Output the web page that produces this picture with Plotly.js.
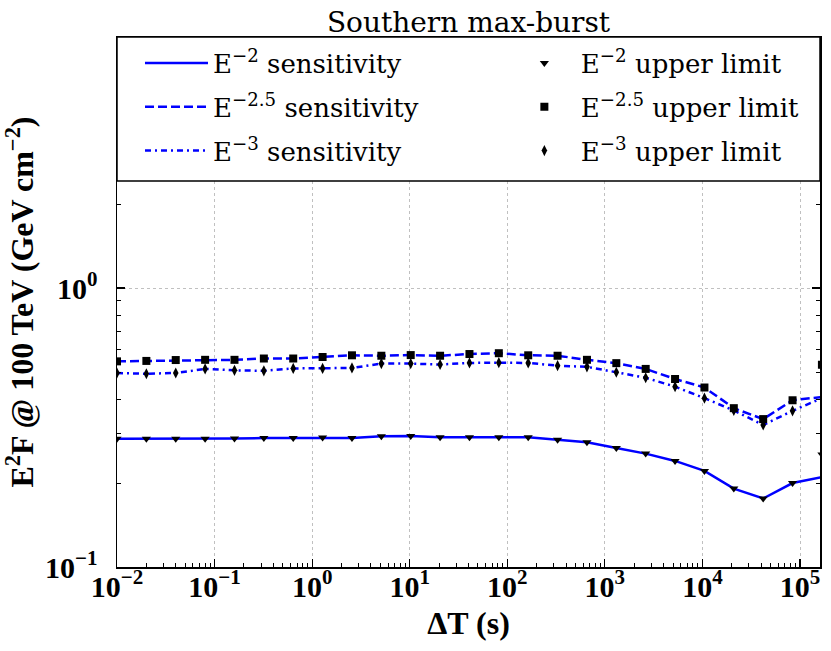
<!DOCTYPE html>
<html><head><meta charset="utf-8">
<script src="https://cdn.plot.ly/plotly-3.0.1.min.js"></script>
<style>html,body{margin:0;padding:0;background:#fff}</style>
</head><body><div id="chart" style="width:831px;height:651px"></div>
<script>
// Time windows ΔT (s)
const deltaT = [0.01, 0.02, 0.04, 0.08, 0.16, 0.32, 0.64, 1.28, 2.56, 5.12, 10.24, 20.48, 40.96,
  81.92, 163.84, 327.68, 655.36, 1310.72, 2621.44, 5242.88, 10485.76, 20971.52, 41943.04, 83886.08, 167772.16];

// Sensitivities (lines)
const sensE2  = [0.288,0.288,0.288,0.288,0.289,0.290,0.290,0.291,0.290,0.294,0.295,0.292,0.292,0.292,0.292,0.286,0.280,0.267,0.255,0.240,0.221,0.191,0.176,0.200,0.210];
const sensE25 = [0.546,0.548,0.552,0.553,0.553,0.559,0.559,0.566,0.574,0.572,0.575,0.572,0.580,0.584,0.574,0.572,0.553,0.538,0.513,0.472,0.440,0.371,0.339,0.396,0.407];
const sensE3  = [0.496,0.493,0.496,0.513,0.507,0.505,0.515,0.515,0.517,0.536,0.536,0.532,0.539,0.540,0.539,0.527,0.522,0.499,0.477,0.443,0.403,0.364,0.323,0.363,0.403];

// Upper limits (markers)
const ulE2  = [0.288,0.288,0.288,0.288,0.289,0.290,0.290,0.291,0.290,0.294,0.295,0.292,0.292,0.292,0.292,0.286,0.280,0.267,0.255,0.240,0.221,0.191,0.176,0.200,0.253];
const ulE25 = [0.546,0.548,0.552,0.553,0.553,0.559,0.559,0.566,0.574,0.572,0.575,0.572,0.580,0.584,0.574,0.572,0.553,0.538,0.513,0.472,0.440,0.371,0.339,0.396,0.531];
const ulE3  = [0.496,0.493,0.496,0.513,0.507,0.505,0.515,0.515,0.517,0.536,0.536,0.532,0.539,0.540,0.539,0.527,0.522,0.499,0.477,0.443,0.403,0.364,0.323,0.363,0.521];

// Labels
const seriesNames = ['E<sup>−2</sup> sensitivity','E<sup>−2.5</sup> sensitivity','E<sup>−3</sup> sensitivity'];
const ulNames = ['E<sup>−2</sup> upper limit','E<sup>−2.5</sup> upper limit','E<sup>−3</sup> upper limit'];
const xTickVals = [0.01, 0.1, 1, 10, 100, 1000, 10000, 100000];
const xTickText = ['10<sup>−2</sup>','10<sup>−1</sup>','10<sup>0</sup>','10<sup>1</sup>','10<sup>2</sup>','10<sup>3</sup>','10<sup>4</sup>','10<sup>5</sup>'];
const yTickVals = [0.1, 1];
const yTickText = ['10<sup>−1</sup>','10<sup>0</sup>'];
const titleText = 'Southern max-burst';
const xTitle = '<b>ΔT (s)</b>';
const yTitle = '<b>E<sup>2</sup>F @ 100 TeV (GeV cm<sup>−2</sup>)</b>';

const FONT = '"Liberation Serif", "Times New Roman", Times, serif';
const FONT_REG = '"DejaVu Serif", "Liberation Serif", serif';
const BLUE = '#0000ff';

const lineStyles = ['solid', '9px,4px', '6px,4px,2px,4px'];
const sensData = [sensE2, sensE25, sensE3];
const ulData = [ulE2, ulE25, ulE3];
const symbols = ['triangle-down', 'square', 'diamond-tall'];
const sizes = [8, 8, 8];

const traces = [];
sensData.forEach((ys, i) => {
  traces.push({
    x: deltaT, y: ys, type: 'scatter', mode: 'lines', name: seriesNames[i],
    line: {color: BLUE, width: 2.5, dash: lineStyles[i]},
    legend: 'legend', legendgroup: 's' + i, hoverinfo: 'skip'
  });
});
ulData.forEach((ys, i) => {
  traces.push({
    x: deltaT, y: ys, type: 'scatter', mode: 'markers', name: ulNames[i],
    marker: {color: 'black', symbol: symbols[i], size: sizes[i], line: {width: 0}},
    legend: 'legend2', legendgroup: 'u' + i, hoverinfo: 'skip'
  });
});

const tickFont = {family: FONT, size: 30, color: 'black', weight: 'bold'};
const axisCommon = {
  type: 'log', tickmode: 'array', ticks: 'inside', ticklen: 8, tickwidth: 1.2, tickcolor: 'black',
  showline: true, linecolor: 'black', linewidth: 1.5, mirror: 'ticks',
  showgrid: true, gridcolor: '#c0c0c0', griddash: 'dot', gridwidth: 1,
  zeroline: false, tickfont: tickFont,
  minor: {ticks: 'inside', ticklen: 4, tickwidth: 1, tickcolor: 'black', dtick: 'D1', showgrid: false}
};

const legendCommon = {
  bgcolor: 'rgba(0,0,0,0)', borderwidth: 0, yanchor: 'top', xanchor: 'left', y: 0.9952,
  font: {family: FONT_REG, size: 26, color: 'black'}, itemwidth: 63, tracegroupgap: 7, traceorder: 'grouped'
};

const layout = {
  width: 831, height: 651,
  margin: {l: 117, r: 11, t: 37, b: 84},
  paper_bgcolor: 'white', plot_bgcolor: 'white',
  font: {family: FONT, color: 'black'},
  title: {text: titleText, font: {family: FONT_REG, size: 28, color: 'black'},
          x: 0.5, xref: 'paper', y: 1, yref: 'paper', yanchor: 'bottom', pad: {b: 5}},
  xaxis: Object.assign({}, axisCommon, {
    range: [-2, 5.205], tickvals: xTickVals, ticktext: xTickText, ticklabelstandoff: -8,
    title: {text: xTitle, font: {family: FONT, size: 32, color: 'black'}, standoff: 10}
  }),
  yaxis: Object.assign({}, axisCommon, {
    range: [-1, 0.9], tickvals: yTickVals, ticktext: yTickText, ticklabelstandoff: 12,
    title: {text: yTitle, font: {family: FONT, size: 32, color: 'black'}, standoff: 8}
  }),
  legend: Object.assign({}, legendCommon, {x: 0.0327}),
  legend2: Object.assign({}, legendCommon, {x: 0.556}),
  shapes: [{type: 'rect', xref: 'paper', yref: 'paper', x0: 0, x1: 1, y0: 0.7283, y1: 1,
            fillcolor: 'white', line: {color: 'black', width: 1.5}, layer: 'above'}],
  showlegend: true
};

Plotly.newPlot('chart', traces, layout, {staticPlot: true, displayModeBar: false});
</script>
</body></html>
